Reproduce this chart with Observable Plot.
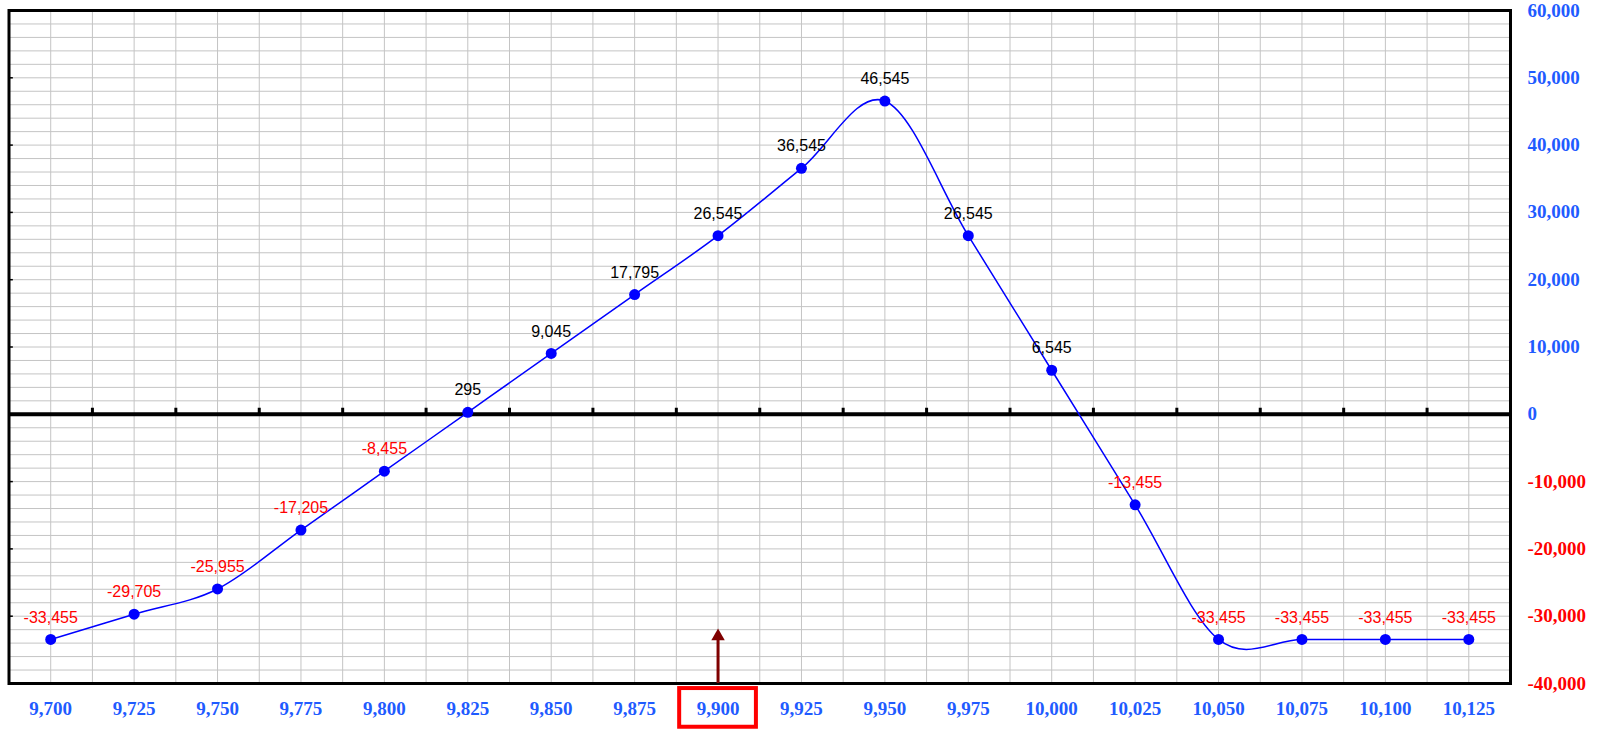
<!DOCTYPE html>
<html><head><meta charset="utf-8">
<script src="https://cdn.jsdelivr.net/npm/d3@7"></script>
<script src="https://cdn.jsdelivr.net/npm/@observablehq/plot@0.6"></script>
<style>body{margin:0;background:#fff}</style>
</head><body><div id="chart"></div>
<script>
const strikes = [9700, 9725, 9750, 9775, 9800, 9825, 9850, 9875, 9900, 9925, 9950, 9975, 10000, 10025, 10050, 10075, 10100, 10125];
const pnl = [-33455, -29705, -25955, -17205, -8455, 295, 9045, 17795, 26545, 36545, 46545, 26545, 6545, -13455, -33455, -33455, -33455, -33455];
const yTicksPos = [60000, 50000, 40000, 30000, 20000, 10000, 0];
const yTicksNeg = [-10000, -20000, -30000, -40000];
const markedStrike = 9900;

const blueLab = "#1f5bff";
const comma = d3.format(",");
const fmt = d => (d < 0 ? "-" : "") + comma(Math.abs(d));
const xDomain = [9687.5, 10137.5];
const yDomain = [-40000, 60000];
const gridXs = d3.range(xDomain[0], xDomain[1] + 0.1, 12.5);
const gridYs = d3.range(yDomain[0], yDomain[1] + 1, 2000);
const midTicks = d3.range(9712.5, 10125, 25);
const yTicksAll = yTicksPos.concat(yTicksNeg);
const xOf = (d, i) => strikes[i];

const chart = Plot.plot({
  width: 1600, height: 737,
  marginLeft: 8.5, marginRight: 90, marginTop: 10, marginBottom: 54,
  style: {fontFamily: "'Liberation Serif', 'Times New Roman', serif", fontSize: "19px", fontWeight: "bold", background: "#fff"},
  x: {domain: xDomain},
  y: {domain: yDomain},
  marks: [
    Plot.gridX(gridXs, {stroke: "#c4c4c4", strokeOpacity: 1, strokeWidth: 1}),
    Plot.gridY(gridYs, {stroke: "#c4c4c4", strokeOpacity: 1, strokeWidth: 1}),
    Plot.ruleY([0], {stroke: "#000", strokeWidth: 4}),
    Plot.ruleX(midTicks, {y1: 0, y2: 900, stroke: "#000", strokeWidth: 3}),
    Plot.ruleY(yTicksAll, {x1: xDomain[0], x2: xDomain[0] + 1.3, stroke: "#000", strokeWidth: 1.5}),
    Plot.frame({stroke: "#000", strokeWidth: 3}),
    Plot.line(pnl, {x: xOf, y: d => d, curve: "cardinal", stroke: "#0000ff", strokeWidth: 1.5}),
    Plot.dot(pnl, {x: xOf, y: d => d, r: 5.5, fill: "#0000ff", stroke: null}),
    Plot.text(pnl, {x: xOf, y: d => d, text: fmt, filter: d => d >= 0, fill: "#000", dy: -22,
      fontFamily: "'Liberation Sans', Arial, sans-serif", fontSize: 16, fontWeight: "normal"}),
    Plot.text(pnl, {x: xOf, y: d => d, text: fmt, filter: d => d < 0, fill: "#ff0000", dy: -22,
      fontFamily: "'Liberation Sans', Arial, sans-serif", fontSize: 16, fontWeight: "normal"}),
    Plot.ruleX([markedStrike], {y1: -40000, y2: -33500, stroke: "#7f0000", strokeWidth: 3}),
    Plot.dot([markedStrike], {x: d => d, y: -33000, symbol: "triangle", r: 5, fill: "#7f0000", stroke: null}),
    Plot.rect([markedStrike], {x1: d => d - 11.5, x2: d => d + 11.5, y1: -40750, y2: -46500, fill: "none", stroke: "#ff0000", strokeWidth: 4}),
    Plot.axisX({ticks: strikes, tickSize: 0, tickPadding: 18, tickFormat: fmt, fill: blueLab, label: null}),
    Plot.axisY({anchor: "right", ticks: yTicksPos, tickSize: 0, tickPadding: 17, tickFormat: fmt, fill: blueLab, textAnchor: "start", label: null}),
    Plot.axisY({anchor: "right", ticks: yTicksNeg, tickSize: 0, tickPadding: 17, tickFormat: fmt, fill: "#ff0000", textAnchor: "start", label: null})
  ]
});
document.getElementById("chart").appendChild(chart);
</script>
</body></html>
